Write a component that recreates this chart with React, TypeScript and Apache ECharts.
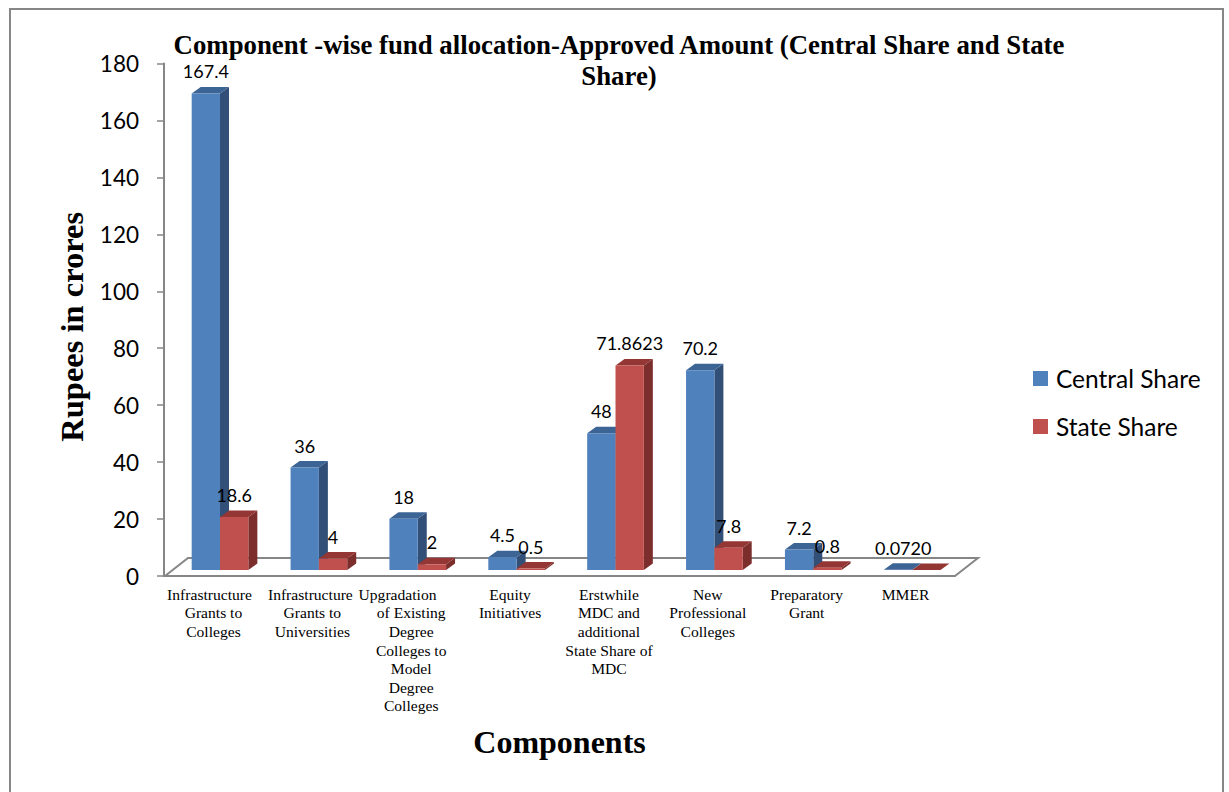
import React, { useEffect, useRef } from "react";
import * as echarts from "echarts";

const categories = [
  "Infrastructure  \nGrants to\nColleges",
  "Infrastructure \nGrants to\nUniversities",
  "Upgradation       \nof Existing\nDegree\nColleges to\nModel\nDegree\nColleges",
  "Equity\nInitiatives",
  "Erstwhile\nMDC and\nadditional\nState Share of\nMDC",
  "New\nProfessional\nColleges",
  "Preparatory\nGrant",
  "MMER",
];
const centralShare = [167.4, 36, 18, 4.5, 48, 70.2, 7.2, 0.072];
const stateShare = [18.6, 4, 2, 0.5, 71.8623, 7.8, 0.8, 0];
const yTickMax = 180;
const yTickStep = 20;
const chartTitle = "Component -wise fund allocation-Approved Amount (Central Share and State\nShare)";

const GRAY = "#868686";
const SERIF = "Liberation Serif";
const SANS = "Lato";

function barRenderer(startFrac: number, front: string, top: string, side: string) {
  return (params: any, api: any) => {
    const band = api.size([1, 0])[0];
    const pt = api.coord([api.value(0), api.value(1)]);
    const zero = api.coord([api.value(0), 0]);
    const w = band * 0.2865;
    const dx = 9;
    const dy = 6.5;
    const lift = 6;
    const x0 = pt[0] + band * startFrac;
    const x1 = x0 + w;
    const yb = zero[1] - lift;
    const yt = pt[1] - lift;
    return {
      type: "group",
      children: [
        { type: "polygon", shape: { points: [[x1, yt], [x1 + dx, yt - dy], [x1 + dx, yb - dy], [x1, yb]] }, style: { fill: side } },
        { type: "polygon", shape: { points: [[x0, yt], [x0 + dx, yt - dy], [x1 + dx, yt - dy], [x1, yt]] }, style: { fill: top } },
        { type: "rect", shape: { x: x0, y: yt, width: w, height: yb - yt }, style: { fill: front } },
      ],
    };
  };
}

function labelRenderer(startFrac: number) {
  return (params: any, api: any) => {
    const band = api.size([1, 0])[0];
    const pt = api.coord([api.value(0), api.value(1)]);
    const w = band * 0.2865;
    return {
      type: "text",
      x: pt[0] + band * startFrac + w / 2,
      y: pt[1] - 6 - 22,
      style: {
        text: String(api.value(1)),
        fill: "#000",
        font: `18px ${SANS}`,
        align: "center",
        verticalAlign: "middle",
      },
    };
  };
}

export default function App() {
  const ref = useRef<HTMLDivElement>(null);
  useEffect(() => {
    const chart = echarts.init(ref.current!, undefined, { renderer: "svg" });
    const toData = (vals: number[]) => vals.map((v, i) => [i, v]);
    chart.setOption({
      animation: false,
      backgroundColor: "#fff",
      title: {
        text: chartTitle,
        left: 614,
        top: 24,
        textAlign: "center",
        textStyle: { fontFamily: SERIF, fontWeight: "bold", fontSize: 26.8, lineHeight: 31, color: "#000" },
      },
      graphic: [
        { type: "rect", z: -1, shape: { x: 10, y: 9, width: 1213, height: 800 }, style: { fill: "none", stroke: GRAY, lineWidth: 2 } },
      ],
      legend: {
        orient: "vertical",
        left: 1028,
        top: 361,
        data: ["Central Share", "State Share"],
        icon: "rect",
        itemWidth: 15,
        itemHeight: 15,
        itemGap: 23,
        selectedMode: false,
        textStyle: { fontFamily: SANS, fontSize: 24.5, color: "#000", padding: [0, 0, 0, 3] },
      },
      grid: { left: 164, top: 63.5, width: 791, height: 512.5, containLabel: false },
      xAxis: {
        type: "category",
        data: categories,
        name: "Components",
        nameLocation: "middle",
        nameGap: 150,
        nameTextStyle: { fontFamily: SERIF, fontWeight: "bold", fontSize: 32, color: "#000" },
        axisLine: { lineStyle: { color: GRAY, width: 2 } },
        axisTick: { length: 5, lineStyle: { color: GRAY, width: 1.5 } },
        axisLabel: { interval: 0, margin: 9, fontFamily: SERIF, fontSize: 15.6, lineHeight: 18.6, color: "#000", hideOverlap: false },
        splitLine: { show: false },
      },
      yAxis: {
        type: "value",
        min: 0,
        max: yTickMax,
        interval: yTickStep,
        name: "Rupees in crores",
        nameLocation: "middle",
        nameGap: 75,
        nameRotate: 90,
        nameTextStyle: { fontFamily: SERIF, fontWeight: "bold", fontSize: 32.5, color: "#000", padding: [0, 14, 0, 0] },
        axisLine: { show: true, lineStyle: { color: GRAY, width: 2 } },
        axisTick: { show: true, length: 7, lineStyle: { color: GRAY, width: 1.5 } },
        axisLabel: { margin: 25, fontFamily: SANS, fontSize: 22.5, color: "#000" },
        splitLine: { show: false },
      },
      series: [
        {
          name: "floor",
          type: "custom",
          coordinateSystem: "cartesian2d",
          silent: true,
          z: 1,
          data: [[0, 0]],
          renderItem: (params: any) => {
            const g = params.coordSys;
            const b = g.y + g.height;
            const r = g.x + g.width;
            return {
              type: "polyline",
              shape: { points: [[g.x + 1, b], [g.x + 24, b - 18], [r + 23, b - 18], [r, b]] },
              style: { fill: "none", stroke: GRAY, lineWidth: 2 },
            };
          },
        },
        {
          name: "Central Share",
          type: "custom",
          coordinateSystem: "cartesian2d",
          z: 3,
          itemStyle: { color: "#4f81bd" },
          encode: { x: 0, y: 1 },
          data: toData(centralShare),
          renderItem: barRenderer(-0.22, "#4f81bd", "#3c6494", "#324f78"),
        },
        {
          name: "State Share",
          type: "custom",
          coordinateSystem: "cartesian2d",
          z: 4,
          itemStyle: { color: "#c0504d" },
          encode: { x: 0, y: 1 },
          data: toData(stateShare),
          renderItem: barRenderer(0.0665, "#c0504d", "#933634", "#7b2e2c"),
        },
        {
          name: "Central labels",
          type: "custom",
          coordinateSystem: "cartesian2d",
          silent: true,
          z: 5,
          encode: { x: 0, y: 1 },
          data: toData(centralShare),
          renderItem: labelRenderer(-0.22),
        },
        {
          name: "State labels",
          type: "custom",
          coordinateSystem: "cartesian2d",
          silent: true,
          z: 5,
          encode: { x: 0, y: 1 },
          data: toData(stateShare),
          renderItem: labelRenderer(0.0665),
        },
      ],
    });
    return () => chart.dispose();
  }, []);
  return <div ref={ref} style={{ position: "fixed", left: 0, top: 0, width: 1229, height: 792 }} />;
}
